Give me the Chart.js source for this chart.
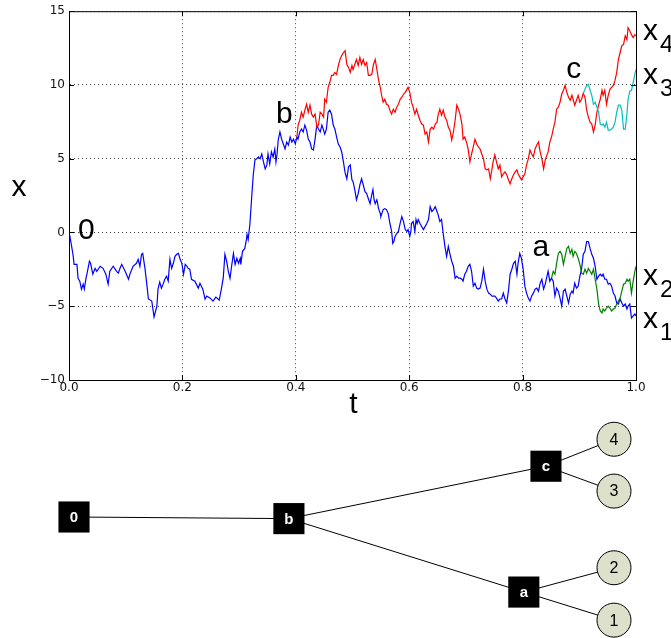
<!DOCTYPE html>
<html>
<head>
<meta charset="utf-8">
<script src="https://cdn.jsdelivr.net/npm/chart.js@4.4.0/dist/chart.umd.min.js"></script>
<style>
  html, body { margin: 0; padding: 0; background: #fff; }
  #wrap { position: relative; width: 671px; height: 638px; }
  #paths { position: absolute; left: 0; top: 0; }
  #tree { position: absolute; left: 0; top: 400px; }
</style>
</head>
<body>
<div id="wrap">
  <canvas id="tree" width="671" height="238"></canvas>
  <canvas id="paths" width="671" height="420"></canvas>
</div>
<script>
// ticks
const tTicks = [0, 0.2, 0.4, 0.6, 0.8, 1.0]
const xTicks = [-10, -5, 0, 5, 10, 15]

// x1 : blue, from 0 to the end
const blueT = [
  0.000, 0.002, 0.007, 0.009, 0.014, 0.016, 0.019, 0.022, 0.025, 0.027,
  0.030, 0.032, 0.036, 0.038, 0.042, 0.046, 0.049, 0.055, 0.060, 0.065,
  0.069, 0.072, 0.078, 0.084, 0.087, 0.090, 0.093, 0.099, 0.105, 0.108,
  0.113, 0.119, 0.122, 0.125, 0.128, 0.130, 0.134, 0.138, 0.140, 0.146,
  0.150, 0.155, 0.157, 0.160, 0.163, 0.166, 0.169, 0.172, 0.175, 0.178,
  0.181, 0.184, 0.187, 0.190, 0.193, 0.196, 0.199, 0.202, 0.205, 0.208,
  0.210, 0.213, 0.216, 0.222, 0.228, 0.231, 0.236, 0.240, 0.243, 0.249,
  0.254, 0.259, 0.265, 0.269, 0.272, 0.275, 0.278, 0.281, 0.284, 0.287,
  0.290, 0.293, 0.296, 0.299, 0.302, 0.303, 0.306, 0.310, 0.313, 0.314,
  0.316, 0.319, 0.322, 0.325, 0.328, 0.331, 0.334, 0.337, 0.340, 0.343,
  0.346, 0.349, 0.351, 0.354, 0.357, 0.360, 0.363, 0.365, 0.367, 0.369,
  0.372, 0.375, 0.378, 0.381, 0.384, 0.387, 0.390, 0.393, 0.396, 0.399,
  0.402, 0.404, 0.407, 0.410, 0.413, 0.416, 0.419, 0.422, 0.425, 0.428,
  0.431, 0.434, 0.437, 0.440, 0.443, 0.446, 0.449, 0.451, 0.454, 0.457,
  0.460, 0.463, 0.466, 0.469, 0.472, 0.475, 0.478, 0.481, 0.484, 0.487,
  0.490, 0.493, 0.496, 0.499, 0.501, 0.504, 0.507, 0.510, 0.513, 0.516,
  0.519, 0.522, 0.525, 0.528, 0.531, 0.534, 0.536, 0.538, 0.540, 0.543,
  0.546, 0.549, 0.550, 0.554, 0.557, 0.560, 0.563, 0.566, 0.569, 0.571,
  0.573, 0.575, 0.578, 0.581, 0.584, 0.587, 0.590, 0.593, 0.596, 0.598,
  0.601, 0.603, 0.604, 0.607, 0.610, 0.612, 0.614, 0.616, 0.619, 0.622,
  0.625, 0.628, 0.631, 0.634, 0.637, 0.640, 0.643, 0.646, 0.649, 0.651,
  0.654, 0.657, 0.660, 0.663, 0.666, 0.669, 0.672, 0.675, 0.678, 0.681,
  0.684, 0.687, 0.690, 0.693, 0.695, 0.698, 0.701, 0.704, 0.707, 0.710,
  0.713, 0.716, 0.719, 0.722, 0.725, 0.728, 0.731, 0.734, 0.737, 0.740,
  0.743, 0.746, 0.748, 0.751, 0.754, 0.757, 0.760, 0.763, 0.766, 0.769,
  0.772, 0.775, 0.778, 0.781, 0.784, 0.787, 0.790, 0.792, 0.795, 0.798,
  0.801, 0.804, 0.807, 0.810, 0.813, 0.816, 0.819, 0.822, 0.825, 0.828,
  0.831, 0.834, 0.837, 0.840, 0.843, 0.845, 0.848, 0.851, 0.854, 0.857,
  0.860, 0.863, 0.866, 0.869, 0.872, 0.875, 0.878, 0.881, 0.884, 0.887,
  0.889, 0.892, 0.895, 0.898, 0.901, 0.904, 0.907, 0.910, 0.913, 0.916,
  0.919, 0.922, 0.925, 0.928, 0.931, 0.934, 0.937, 0.940, 0.942, 0.945,
  0.948, 0.951, 0.954, 0.957, 0.960, 0.963, 0.966, 0.969, 0.972, 0.975,
  0.978, 0.981, 0.984, 0.986, 0.989, 0.992, 0.995, 0.998, 1.000
]
const blueX = [
  0.00, -0.34, -1.48, -2.16, -2.16, -3.10, -3.30, -3.84, -3.50, -3.84,
  -3.10, -2.76, -1.95, -2.09, -2.83, -2.43, -2.63, -2.29, -2.43, -2.83,
  -3.50, -2.63, -2.29, -2.63, -2.76, -2.43, -2.16, -2.63, -3.17, -2.76,
  -2.29, -2.09, -1.82, -2.29, -1.48, -1.42, -2.43, -3.77, -4.51, -4.65,
  -5.73, -4.99, -3.84, -3.37, -3.77, -3.50, -3.17, -2.96, -3.30, -1.82,
  -2.43, -2.09, -1.62, -1.48, -1.42, -1.82, -2.09, -2.83, -2.16, -2.29,
  -2.43, -2.49, -3.17, -3.30, -3.77, -3.44, -3.84, -4.51, -4.31, -4.45,
  -4.65, -4.38, -4.58, -3.77, -3.10, -1.48, -1.95, -2.63, -3.10, -2.22,
  -1.42, -2.16, -1.75, -2.09, -1.75, -2.16, -1.28, -1.08, -0.47, -0.13,
  -0.47, 0.54, 2.29, 3.91, 4.92, 4.99, 5.12, 4.99, 5.32, 4.78,
  4.31, 4.58, 5.32, 4.65, 5.46, 5.12, 5.66, 4.78, 5.32, 6.27,
  6.81, 6.33, 6.00, 5.66, 6.13, 5.93, 6.47, 6.13, 6.33, 6.00,
  6.47, 6.33, 6.81, 7.01, 6.81, 7.28, 6.94, 6.33, 6.13, 5.66,
  5.59, 6.33, 7.28, 7.01, 6.81, 7.28, 6.94, 6.67, 7.01, 8.15,
  8.29, 8.02, 7.28, 7.01, 6.47, 6.00, 5.80, 5.46, 4.78, 4.04,
  3.64, 4.45, 4.58, 3.57, 3.44, 2.90, 2.22, 2.63, 3.23, 3.64,
  3.23, 2.76, 2.63, 2.29, 1.95, 2.56, 2.90, 2.22, 1.95, 2.22,
  1.62, 1.28, 1.08, 1.55, 1.62, 1.55, 1.28, 0.61, 0.07, -0.74,
  -0.61, -0.27, -0.07, 0.07, 0.61, 1.08, 0.74, 0.20, 0.07, 0.20,
  -0.27, 0.07, 0.61, 0.74, 0.07, 0.88, 0.61, 0.88, 0.61, 0.40,
  0.20, 0.40, 0.61, 0.88, 1.75, 1.42, 1.55, 1.75, 1.42, 1.21,
  0.74, 0.88, -0.07, -0.94, -1.62, -0.94, -1.48, -1.95, -2.29, -3.10,
  -2.96, -3.10, -3.10, -3.17, -3.30, -2.83, -2.63, -2.29, -2.16, -2.63,
  -3.64, -3.44, -3.77, -3.84, -3.77, -3.30, -2.49, -3.30, -3.84, -4.11,
  -4.18, -4.31, -4.31, -4.31, -4.45, -4.65, -4.51, -4.51, -4.11, -4.51,
  -4.78, -3.98, -2.83, -2.49, -2.09, -1.95, -2.83, -2.09, -1.42, -1.75,
  -2.49, -3.64, -4.11, -4.45, -4.65, -4.31, -4.11, -3.84, -3.77, -3.98,
  -3.44, -3.17, -3.84, -3.50, -2.96, -2.63, -3.30, -3.10, -3.30, -4.31,
  -3.77, -3.98, -4.45, -4.99, -3.98, -3.84, -4.31, -4.78, -4.18, -3.98,
  -4.11, -3.44, -3.77, -3.64, -2.96, -2.49, -1.48, -1.28, -0.61, -0.61,
  -1.08, -1.48, -1.75, -2.29, -3.17, -2.96, -2.83, -2.96, -2.83, -3.17,
  -3.17, -3.50, -3.44, -3.64, -4.11, -4.31, -4.78, -4.85, -4.51, -4.78,
  -4.99, -4.85, -5.19, -4.99, -4.85, -5.80, -5.66, -5.53, -5.66
]

// x4 : red, leaves blue at b
const redT = [
  0.402, 0.404, 0.407, 0.410, 0.413, 0.416, 0.419, 0.422, 0.425, 0.428,
  0.431, 0.434, 0.437, 0.440, 0.443, 0.446, 0.449, 0.451, 0.454, 0.457,
  0.460, 0.463, 0.466, 0.469, 0.472, 0.475, 0.478, 0.481, 0.484, 0.487,
  0.490, 0.493, 0.496, 0.499, 0.501, 0.504, 0.507, 0.510, 0.513, 0.516,
  0.519, 0.522, 0.525, 0.528, 0.531, 0.534, 0.537, 0.540, 0.543, 0.546,
  0.549, 0.551, 0.554, 0.557, 0.560, 0.563, 0.566, 0.569, 0.572, 0.575,
  0.578, 0.581, 0.584, 0.587, 0.590, 0.593, 0.596, 0.598, 0.601, 0.604,
  0.607, 0.610, 0.613, 0.616, 0.619, 0.622, 0.625, 0.628, 0.631, 0.634,
  0.637, 0.640, 0.643, 0.646, 0.649, 0.651, 0.654, 0.657, 0.660, 0.663,
  0.666, 0.669, 0.672, 0.675, 0.678, 0.681, 0.684, 0.687, 0.690, 0.693,
  0.695, 0.698, 0.701, 0.704, 0.707, 0.710, 0.713, 0.716, 0.719, 0.722,
  0.725, 0.728, 0.731, 0.734, 0.737, 0.740, 0.743, 0.746, 0.748, 0.751,
  0.754, 0.757, 0.760, 0.763, 0.766, 0.769, 0.772, 0.775, 0.778, 0.781,
  0.784, 0.787, 0.790, 0.792, 0.795, 0.798, 0.801, 0.804, 0.807, 0.810,
  0.813, 0.816, 0.819, 0.822, 0.825, 0.828, 0.831, 0.834, 0.837, 0.840,
  0.843, 0.845, 0.848, 0.851, 0.854, 0.857, 0.860, 0.863, 0.866, 0.869,
  0.872, 0.875, 0.878, 0.881, 0.884, 0.887, 0.889, 0.892, 0.895, 0.898,
  0.901, 0.904, 0.907, 0.910, 0.913, 0.916, 0.919, 0.922, 0.925, 0.928,
  0.931, 0.934, 0.937, 0.940, 0.942, 0.945, 0.948, 0.951, 0.954, 0.957,
  0.960, 0.963, 0.966, 0.969, 0.972, 0.975, 0.978, 0.981, 0.984, 0.986,
  0.989, 0.992, 0.995, 0.998, 1.000
]
const redX = [
  6.47, 7.28, 7.61, 8.15, 7.82, 8.29, 8.69, 8.15, 8.63, 8.02,
  7.82, 8.02, 7.14, 7.28, 8.15, 8.02, 7.82, 9.03, 8.83, 9.84,
  10.18, 10.65, 10.65, 10.85, 10.72, 11.32, 11.73, 12.00, 12.20, 12.33,
  11.39, 11.19, 10.85, 11.32, 11.05, 11.39, 11.73, 11.32, 11.86, 11.39,
  11.73, 11.32, 11.52, 10.65, 10.65, 10.72, 11.39, 11.73, 11.05, 10.31,
  9.84, 9.37, 8.83, 9.03, 8.69, 8.63, 8.29, 8.02, 8.36, 8.15,
  8.49, 8.69, 9.03, 9.17, 9.37, 9.50, 9.70, 9.84, 9.50, 8.83,
  8.49, 8.02, 8.36, 7.95, 7.61, 7.35, 7.28, 6.67, 6.81, 6.13,
  7.01, 7.14, 7.01, 7.35, 7.48, 7.95, 8.36, 7.95, 8.29, 7.82,
  7.61, 7.14, 6.94, 6.27, 6.81, 7.61, 8.63, 8.36, 7.95, 7.35,
  6.33, 6.47, 6.13, 5.66, 4.78, 5.32, 5.80, 6.33, 6.00, 5.80,
  5.66, 5.32, 4.99, 4.31, 4.25, 4.31, 3.64, 4.31, 4.78, 5.26,
  4.78, 4.31, 4.58, 3.77, 3.98, 4.11, 3.91, 3.57, 3.30, 3.64,
  3.91, 4.11, 4.25, 3.98, 3.77, 3.57, 3.77, 3.98, 4.58, 4.99,
  5.59, 5.32, 5.12, 5.66, 5.93, 6.13, 5.46, 4.99, 4.31, 4.92,
  5.26, 5.46, 6.13, 6.47, 7.01, 7.48, 8.36, 8.49, 8.83, 9.37,
  9.64, 9.97, 9.50, 9.17, 8.96, 9.30, 9.03, 8.63, 8.96, 9.30,
  8.83, 9.03, 9.43, 9.17, 8.29, 7.82, 7.48, 7.35, 6.81, 7.28,
  8.15, 8.63, 9.03, 9.64, 9.30, 9.64, 8.69, 9.30, 9.70, 9.84,
  9.97, 10.31, 10.85, 11.73, 12.20, 12.67, 12.74, 13.34, 13.07, 13.88,
  13.68, 13.41, 13.21, 13.41, 13.34
]

// x3 : cyan, leaves red at c
const cyanT = [
  0.907, 0.910, 0.913, 0.916, 0.919, 0.922, 0.925, 0.928, 0.931, 0.934,
  0.937, 0.940, 0.942, 0.945, 0.948, 0.951, 0.954, 0.957, 0.960, 0.963,
  0.966, 0.969, 0.972, 0.975, 0.978, 0.981, 0.984, 0.986, 0.989, 0.992,
  0.995, 0.998, 1.000
]
const cyanX = [
  9.43, 9.70, 9.97, 10.04, 9.64, 9.30, 8.69, 8.83, 8.49, 8.15,
  7.35, 7.28, 7.35, 7.14, 7.48, 6.94, 6.94, 7.01, 7.14, 7.48,
  8.15, 8.63, 8.63, 8.29, 7.01, 7.01, 8.02, 9.03, 9.57, 9.64,
  10.18, 10.72, 11.05
]

// x2 : green, leaves blue at a
const greenT = [
  0.851, 0.854, 0.857, 0.860, 0.863, 0.866, 0.869, 0.872, 0.875, 0.878,
  0.881, 0.884, 0.887, 0.889, 0.892, 0.895, 0.898, 0.901, 0.904, 0.907,
  0.910, 0.913, 0.916, 0.919, 0.922, 0.925, 0.928, 0.931, 0.934, 0.937,
  0.940, 0.942, 0.945, 0.948, 0.951, 0.954, 0.957, 0.960, 0.963, 0.966,
  0.969, 0.972, 0.975, 0.978, 0.981, 0.984, 0.986, 0.989, 0.992, 0.995,
  0.998, 1.000
]
const greenX = [
  -3.10, -2.63, -2.83, -2.09, -1.42, -1.28, -1.48, -2.16, -1.62, -1.08,
  -0.94, -1.42, -1.15, -1.62, -1.28, -1.42, -1.75, -2.16, -2.76, -2.83,
  -2.49, -2.76, -2.43, -2.63, -2.83, -2.49, -3.17, -3.84, -4.85, -5.32,
  -5.46, -5.19, -5.32, -5.12, -4.99, -5.12, -5.32, -5.19, -5.12, -4.85,
  -4.65, -4.45, -3.98, -3.50, -3.44, -3.17, -3.30, -3.17, -4.11, -3.30,
  -2.63, -2.29
]

// tree: 0, b, c, a, 4, 3, 2, 1
const nodeNames = ["0", "b", "c", "a", "4", "3", "2", "1"]
const nodeKind = ["box", "box", "box", "box", "leaf", "leaf", "leaf", "leaf"]
const nodeX = [0, 0.398, 0.874, 0.833, 1.0, 1.0, 1.0, 1.0]
const nodeY = [0, -0.03, 0.94, -1.39, 1.44, 0.48, -0.94, -1.91]
const edges = [[0, 1], [1, 2], [1, 3], [2, 4], [2, 5], [3, 6], [3, 7]]

const toPts = (ts, xs) => ts.map((t, i) => ({ x: t, y: xs[i] }))
const SANS = "'Liberation Sans', Arial, sans-serif"

//* texts, frame and inner ticks of the upper plot
const decor = {
  id: "decor",
  afterDraw(chart) {
    const { ctx, chartArea: a, scales: { x, y } } = chart
    ctx.save()
    ctx.strokeStyle = "#000"
    ctx.lineWidth = 1
    ctx.strokeRect(a.left + 0.5, a.top + 0.5, a.right - a.left, a.bottom - a.top)
    ctx.beginPath()
    tTicks.forEach(v => {
      const px = Math.round(x.getPixelForValue(v)) + 0.5
      ctx.moveTo(px, a.bottom); ctx.lineTo(px, a.bottom - 5)
      ctx.moveTo(px, a.top); ctx.lineTo(px, a.top + 5)
    })
    xTicks.forEach(v => {
      const py = Math.round(y.getPixelForValue(v)) + 0.5
      ctx.moveTo(a.left, py); ctx.lineTo(a.left + 5, py)
      ctx.moveTo(a.right, py); ctx.lineTo(a.right - 5, py)
    })
    ctx.stroke()

    ctx.fillStyle = "#000"
    ctx.textBaseline = "alphabetic"
    ctx.textAlign = "left"
    ctx.font = "30px " + SANS
    // branch points: 0, b, c, a
    const marks = [
      { text: "0", t: blueT[0], v: blueX[0], dx: 9, dy: 7 },
      { text: "b", t: redT[0], v: redX[0], dx: -21, dy: -14 },
      { text: "c", t: cyanT[0], v: cyanX[0], dx: -17, dy: -15 },
      { text: "a", t: greenT[0], v: greenX[0], dx: -19, dy: -22 },
    ]
    marks.forEach(m => {
      ctx.fillText(m.text, x.getPixelForValue(m.t) + m.dx, y.getPixelForValue(m.v) + m.dy)
    })

    // end labels x4 x3 x2 x1
    const ends = [["4", 13.07], ["3", 10.04], ["2", -3.57], ["1", -6.47]]
    ends.forEach(([sub, v]) => {
      const py = y.getPixelForValue(v)
      ctx.font = "30px " + SANS
      ctx.fillText("x", a.right + 7, py)
      ctx.font = "24px " + SANS
      ctx.fillText(sub, a.right + 24, py + 12)
    })

    // axis names
    ctx.font = "30px " + SANS
    ctx.textAlign = "center"
    ctx.fillText("x", 19, y.getPixelForValue(3) + 8)
    ctx.fillText("t", (a.left + a.right) / 2 + 1, a.bottom + 33)
    ctx.restore()
  }
}

const pathChart = new Chart(document.querySelector("#paths"), {
  type: "scatter",
  data: {
    datasets: [
      { label: "x1", data: toPts(blueT, blueX), borderColor: "#0000ff", order: 4 },
      { label: "x4", data: toPts(redT, redX), borderColor: "#ff0000", order: 3 },
      { label: "x2", data: toPts(greenT, greenX), borderColor: "#008000", order: 2 },
      { label: "x3", data: toPts(cyanT, cyanX), borderColor: "#00bfbf", order: 1 },
    ].map(d => ({ ...d, showLine: true, pointRadius: 0, borderWidth: 1.2, tension: 0 }))
  },
  options: {
    responsive: false,
    animation: false,
    layout: { padding: { top: 9, right: 35, left: 0, bottom: 0 } },
    plugins: { legend: { display: false }, tooltip: { enabled: false } },
    scales: {
      x: {
        type: "linear", min: 0, max: 1,
        afterBuildTicks: s => { s.ticks = tTicks.map(v => ({ value: v })) },
        afterFit: s => { s.height = 40 },
        ticks: {
          callback: v => v.toFixed(1),
          font: { family: "'DejaVu Sans'", size: 12 }, color: "#111",
          padding: 1, maxRotation: 0, autoSkip: false
        },
        grid: { color: "#444", lineWidth: 1, drawTicks: false },
        border: { display: true, color: "#000", width: 1, dash: [1, 3] }
      },
      y: {
        type: "linear", min: -10, max: 15,
        afterBuildTicks: s => { s.ticks = xTicks.map(v => ({ value: v })) },
        afterFit: s => { s.width = 69 },
        ticks: {
          callback: v => String(v).replace("-", "\u2212"),
          font: { family: "'DejaVu Sans'", size: 12 }, color: "#111",
          padding: 4, autoSkip: false
        },
        grid: { color: "#444", lineWidth: 1, drawTicks: false },
        border: { display: true, color: "#000", width: 1, dash: [1, 3] }
      }
    }
  },
  plugins: [decor]
})

//* tree below the plot
const nodeText = {
  id: "nodeText",
  afterDatasetsDraw(chart) {
    const { ctx } = chart
    ctx.save()
    ctx.textAlign = "center"
    ctx.textBaseline = "middle"
    chart.data.datasets.forEach((ds, di) => {
      if (!ds.names) return
      chart.getDatasetMeta(di).data.forEach((pt, i) => {
        const box = ds.kind === "box"
        ctx.fillStyle = box ? "#fff" : "#000"
        ctx.font = box ? "bold 15px " + SANS : "16px " + SANS
        ctx.fillText(ds.names[i], pt.x, pt.y + 1)
      })
    })
    ctx.restore()
  }
}

const idxOf = kind => nodeKind.map((k, i) => k === kind ? i : -1).filter(i => i >= 0)
const boxIdx = idxOf("box")
const leafIdx = idxOf("leaf")

const treeChart = new Chart(document.querySelector("#tree"), {
  type: "scatter",
  data: {
    datasets: [
      {
        kind: "box", names: boxIdx.map(i => nodeNames[i]),
        data: boxIdx.map(i => ({ x: nodeX[i], y: nodeY[i] })),
        pointStyle: "rect", pointRadius: 22, backgroundColor: "#000", borderWidth: 0
      },
      {
        kind: "leaf", names: leafIdx.map(i => nodeNames[i]),
        data: leafIdx.map(i => ({ x: nodeX[i], y: nodeY[i] })),
        pointStyle: "circle", pointRadius: 17, backgroundColor: "#dde0cb",
        borderColor: "#000", borderWidth: 1
      },
      ...edges.map(([i, j]) => ({
        data: [{ x: nodeX[i], y: nodeY[i] }, { x: nodeX[j], y: nodeY[j] }],
        showLine: true, pointRadius: 0, borderColor: "#000", borderWidth: 1
      }))
    ].map(d => ({ ...d, clip: false }))
  },
  options: {
    responsive: false,
    animation: false,
    layout: { padding: 0, autoPadding: false },
    plugins: { legend: { display: false }, tooltip: { enabled: false } },
    scales: {
      x: { type: "linear", display: false, min: -0.13704, max: 1.10556 },
      y: { type: "linear", display: false, min: -2.24074, max: 2.16667 }
    }
  },
  plugins: [nodeText]
})
</script>
</body>
</html>
